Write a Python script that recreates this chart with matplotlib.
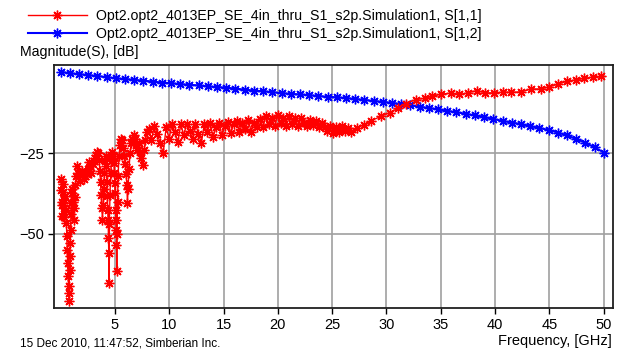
import numpy as np
import matplotlib
matplotlib.use("Agg")
import matplotlib.pyplot as plt

plt.rcParams['font.family'] = ['Liberation Sans', 'DejaVu Sans']

# S[1,2] - uniform sweep
blue_f = np.linspace(0.0, 50.0, 60)
blue_db = [0.2, -0.2, -0.5, -0.8, -1.1, -1.4, -1.8, -2.0, -2.3, -2.5,
           -2.8, -3.1, -3.3, -3.6, -3.8, -4.0, -4.3, -4.5, -4.7, -5.0,
           -5.3, -5.6, -5.8, -6.1, -6.4, -6.6, -6.8, -7.0, -7.3, -7.5,
           -7.7, -7.9, -8.2, -8.5, -8.8, -9.1, -9.4, -9.8, -10.2, -10.6,
           -11.0, -11.4, -11.9, -12.3, -12.8, -13.3, -13.8, -14.4, -15.0, -15.5,
           -16.0, -16.6, -17.2, -17.8, -18.6, -19.5, -20.6, -21.8, -23.2, -24.8]

# S[1,1] - dense points at low frequency
red_f_lo = [0.05, 0.08, 0.11, 0.14, 0.17, 0.20, 0.24, 0.28, 0.32, 0.36,
            0.45, 0.50, 0.54, 0.58, 0.62, 0.66, 0.70, 0.74, 0.77, 0.80,
            0.83, 0.86, 0.89, 0.92, 0.96, 1.00, 1.05, 1.10, 1.15, 1.20,
            1.25, 1.30, 1.35, 1.45, 1.55, 1.65, 1.75, 1.85, 1.95, 2.05,
            2.15, 2.25, 2.35, 2.45, 2.55, 2.65, 2.75, 2.85, 2.95, 3.05,
            3.15, 3.25, 3.35, 3.45, 3.55, 3.62, 3.68, 3.74, 3.80, 3.86,
            3.92, 3.98, 4.04, 4.10, 4.16, 4.22, 4.27, 4.31, 4.35, 4.38,
            4.41, 4.44, 4.47, 4.50, 4.55, 4.62, 4.70, 4.78, 4.86, 4.92,
            4.96, 5.00, 5.03, 5.06, 5.09, 5.12, 5.15, 5.18, 5.21, 5.25,
            5.30, 5.38, 5.48, 5.58, 5.68, 5.78, 5.88, 5.96, 6.04, 6.10,
            6.16, 6.22, 6.30, 6.40, 6.50, 6.60, 6.72, 6.84, 6.96, 7.08,
            7.20, 7.32, 7.45, 7.58, 7.70, 7.82, 7.95]
red_db_lo = [-33.0, -36.5, -40.0, -44.5, -41.0, -37.0, -34.5, -39.5, -44.8, -42.0,
             -38.4, -42.5, -46.7, -50.8, -54.9, -59.0, -63.2, -68.3, -70.9, -66.3,
             -61.1, -57.0, -52.9, -48.7, -44.0, -40.5, -37.5, -36.0, -40.0, -45.6,
             -42.0, -38.5, -35.0, -32.0, -29.0, -31.0, -33.5, -31.0, -30.5, -31.5,
             -33.0, -32.0, -30.8, -31.5, -30.0, -27.6, -29.0, -31.0, -28.5, -27.5,
             -26.5, -25.5, -24.5, -25.0, -27.0, -30.5, -34.0, -38.0, -42.0, -45.6,
             -41.0, -36.0, -31.0, -27.5, -26.0, -29.0, -34.0, -38.4, -42.5, -45.6,
             -51.3, -56.0, -65.3, -47.0, -38.0, -31.0, -27.0, -24.5, -26.0, -28.1,
             -31.2, -34.3, -37.4, -42.5, -45.6, -48.7, -53.4, -61.6, -50.0, -40.0,
             -32.0, -26.0, -22.5, -20.5, -21.0, -23.5, -26.0, -28.5, -31.5, -35.0,
             -40.3, -36.0, -30.0, -25.0, -22.0, -20.5, -19.5, -20.5, -22.5, -24.0,
             -22.0, -24.5, -26.5, -28.6, -24.0, -21.0, -18.5]

# mid band, 0.27 GHz steps from 8.1 GHz
red_f_mid = np.round(8.1 + 0.27 * np.arange(70), 2)
red_db_mid = [-17.5, -21.0, -16.5, -19.0, -22.0, -25.0, -17.0, -20.5, -16.0, -18.5,
              -21.5, -16.0, -19.5, -15.8, -18.0, -20.5, -15.8, -19.0, -21.8, -16.0,
              -18.5, -15.7, -20.0, -17.0, -15.5, -19.5, -16.5, -15.2, -18.8, -16.0,
              -15.0, -18.5, -15.5, -17.5, -14.8, -18.3, -15.6, -17.0, -14.5, -16.8,
              -13.5, -16.0, -14.0, -16.7, -13.2, -15.5, -14.0, -16.5, -13.5, -15.8,
              -14.2, -16.7, -14.1, -15.6, -16.5, -14.8, -16.2, -15.0, -17.0, -15.5,
              -16.8, -18.2, -16.5, -18.8, -17.0, -18.5, -16.5, -18.0, -17.2, -18.4]

red_f_hi = [27.3, 27.9, 28.6, 29.5, 30.3, 31.1, 31.8, 32.7, 33.5, 34.2,
            35.0, 35.9, 36.7, 37.5, 38.3, 39.1, 39.9, 40.7, 41.5, 42.4,
            43.3, 44.2, 45.0, 45.8, 46.6, 47.4, 48.2, 49.0, 49.7]
red_db_hi = [-17.2, -16.2, -14.9, -13.6, -12.4, -11.0, -9.6, -8.4, -8.0, -7.4,
             -6.7, -6.4, -6.8, -6.3, -5.6, -6.3, -6.3, -6.1, -6.1, -6.0,
             -5.1, -5.1, -4.4, -3.6, -2.7, -2.3, -1.8, -1.4, -1.2]

red_f = np.concatenate([red_f_lo, red_f_mid, red_f_hi])
red_db = np.concatenate([red_db_lo, red_db_mid, red_db_hi])

labels = ["Opt2.opt2_4013EP_SE_4in_thru_S1_s2p.Simulation1, S[1,1]",
          "Opt2.opt2_4013EP_SE_4in_thru_S1_s2p.Simulation1, S[1,2]"]
xticks = [5, 10, 15, 20, 25, 30, 35, 40, 45, 50]
yticks = [-50, -25]

fig = plt.figure(figsize=(6.25, 3.52), dpi=100)
ax = fig.add_axes([0.0864, 0.125, 0.8936, 0.690])

star = (8, 2, 0)
ax.plot(blue_f, blue_db, color='#0000ff', lw=1.5, marker=star, ms=7, mew=1.0,
        label=labels[1], zorder=3)
ax.plot(red_f, red_db, color='#ff0000', lw=1.0, marker=star, ms=7, mew=1.0,
        label=labels[0], zorder=4)

ax.set_xlim(-0.6, 50.8)
ax.set_ylim(-73, 2.3)
ax.set_xticks(xticks)
ax.set_yticks(yticks)
ax.grid(True, color='#a0a0a0', lw=1.2)
ax.set_axisbelow(True)
for s in ax.spines.values():
    s.set_linewidth(1.3)
    s.set_color('#202020')
ax.tick_params(direction='out', length=4, width=1.0, labelsize=10.5, pad=3)

h, l = ax.get_legend_handles_labels()
fig.legend(h[::-1], l[::-1], loc='upper left', bbox_to_anchor=(0.035, 0.99),
           frameon=False, fontsize=10.2, handlelength=4.2, handletextpad=0.6,
           labelspacing=0.3, borderaxespad=0)

fig.text(20 / 625, 1 - 52 / 352, "Magnitude(S), [dB]", fontsize=10.2, va='center')
fig.text(612 / 625, 1 - 341 / 352, "Frequency, [GHz]", fontsize=10.5,
         va='center', ha='right')
fig.text(20 / 625, 1 - 343 / 352, "15 Dec 2010, 11:47:52, Simberian Inc.",
         fontsize=8.5, va='center')

fig.savefig('out.png', dpi=100)
